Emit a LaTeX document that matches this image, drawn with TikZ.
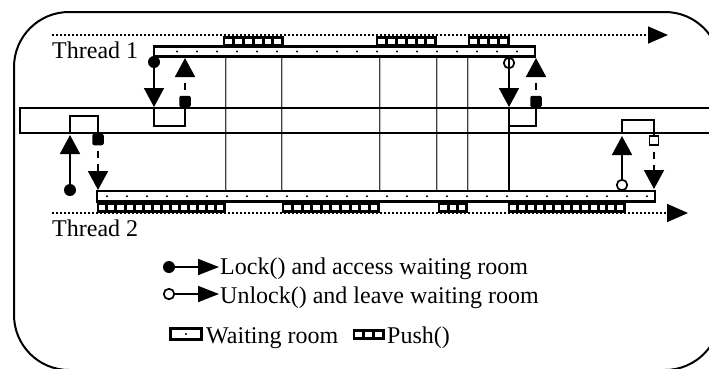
\documentclass[tikz,border=0pt]{standalone}
\usepackage{fontspec}
\setmainfont{Liberation Serif}
\usetikzlibrary{arrows.meta}
\newcommand\pushrow[4]{% x1, x2, ytop, n
  \fill (#1,#3) rectangle (#2,#3+11);
  \pgfmathsetmacro\pp{(#2-#1-2)/#4}
  \foreach \i in {1,...,#4}{
    \fill[white] ({#1+1+(\i-1)*\pp+1.3},#3+3.2) rectangle ({#1+1+\i*\pp-1.7},#3+8.3);
  }
}
\begin{document}
\begin{tikzpicture}[x=1pt,y=-1pt,
  ln/.style={line width=1.8pt},
  tri/.style={-{Triangle[width=20pt,length=19pt]}},
  dsh/.style={line width=1.8pt,dash pattern=on 7pt off 6pt,dash phase=7pt},
  dotl/.style={line width=1.7pt,dash pattern=on 1.7pt off 2.3pt},
  vouter/.style={line width=2.2pt,draw=black!75},
  vinner/.style={line width=0.7pt,draw=black!25},
  lab/.style={font=\fontsize{24}{28}\selectfont,inner sep=0pt,anchor=base west},
  lockc/.style={circle,fill=black,inner sep=0pt,minimum size=12pt},
  unlockc/.style={circle,draw=black,line width=1.7pt,inner sep=0pt,minimum size=10.5pt},
  kbox/.style={rounded corners=2pt,fill=black,minimum width=11.5pt,minimum height=11.5pt,inner sep=0pt},
  obox/.style={draw,line width=1.8pt,fill=white,minimum width=9pt,minimum height=9pt,inner sep=0pt},
  wroom/.style={draw,line width=2.9pt,fill=white},
]
\useasboundingbox (0,0) rectangle (709,368);
\clip (0,0) rectangle (709,368);

% frame
\draw[line width=2pt,rounded corners=55pt] (14,12) rectangle (720,370);

% thread time lines
\draw[dotl,-{Triangle[width=17pt,length=20pt]}] (52,35) -- (668,35);
\draw[dotl,-{Triangle[width=18pt,length=21pt]}] (52,213) -- (688,213);
\node[lab] (t1) at (52,58) {Thread 1};
\node[lab] (t2) at (52,236) {Thread 2};

% vertical boundaries
\foreach \x in {226,282,380,437,468}{
  \draw[vouter] (\x,57) -- (\x,191);
  \draw[vinner] (\x,57) -- (\x,191);
}
\draw[line width=1.4pt] (509,126) -- (509,191);

% shared channel
\draw[ln] (725,108) -- (20,108) -- (20,133) -- (725,133);

% waiting room bars
\draw[wroom] (154,46.5) rectangle (535,56.5);
\foreach \x in {177,197,...,517}{\fill (\x,51.5) circle (1.1pt);}
\draw[wroom] (97,191) rectangle (655,201.5);
\foreach \x in {107,127,...,647}{\fill (\x,196.2) circle (1.1pt);}

% push boxes
\pushrow{223}{284}{35.5}{6}
\pushrow{376}{437}{35.5}{6}
\pushrow{468}{510}{35.5}{4}
\pushrow{97}{226}{201.5}{14}
\pushrow{282}{380}{201.5}{10}
\pushrow{438}{468}{201.5}{3}
\pushrow{508}{626}{201.5}{13}

% thread 1, left lock loop
\node[lockc] (l1) at (154,62) {};
\draw[ln,tri] (l1.center) -- (154,107);
\draw[ln] (154,108) -- (154,126) -- (185,126) -- (185,104);
\node[kbox] (b1) at (185,101.5) {};
\draw[dsh,tri] (b1.north) -- (185,58);

% thread 1, right unlock loop
\draw[ln,tri] (509,57) -- (509,107);
\node[unlockc] (u1) at (509,63) {};
\draw[ln] (509,108) -- (509,126) -- (536,126) -- (536,104);
\node[kbox] (b2) at (536,101.5) {};
\draw[dsh,tri] (b2.north) -- (536,58);

% thread 2, left lock loop
\node[lockc] (l3) at (70,190) {};
\draw[ln,tri] (l3.center) -- (70,135);
\draw[ln] (70,133) -- (70,116) -- (98,116) -- (98,136);
\node[kbox] (b3) at (98,139.5) {};
\draw[dsh,tri] (b3.south) -- (98,190);

% thread 2, right unlock loop
\node[unlockc] (u2) at (622,185) {};
\draw[ln,tri] (u2.north) -- (622,136);
\draw[ln] (622,133) -- (622,120) -- (654,120) -- (654,136);
\node[obox] (b4) at (654,140.5) {};
\draw[dsh,tri] (b4.south) -- (654,189);

% legend
\node[lockc] (lg1) at (169,267) {};
\coordinate (lg1e) at (219,267);
\draw[ln,-{Triangle[width=16pt,length=21pt]}] (lg1.center) -- (lg1e);
\node[lab] (lt1) at (220,274) {Lock() and access waiting room};
\node[unlockc] (lg2) at (169,294) {};
\coordinate (lg2e) at (219,294);
\draw[ln,-{Triangle[width=16pt,length=21pt]}] (lg2.east) -- (lg2e);
\node[lab] (lt2) at (220,303) {Unlock() and leave waiting room};
\draw[wroom] (170.5,328.5) rectangle (201.5,339.5);
\fill (186,334) circle (1.1pt);
\node[lab] (lt3) at (206,343) {Waiting room};
\pushrow{353}{385}{328.5}{3}
\node[lab] (lt4) at (387,343) {Push()};
\end{tikzpicture}
\end{document}
